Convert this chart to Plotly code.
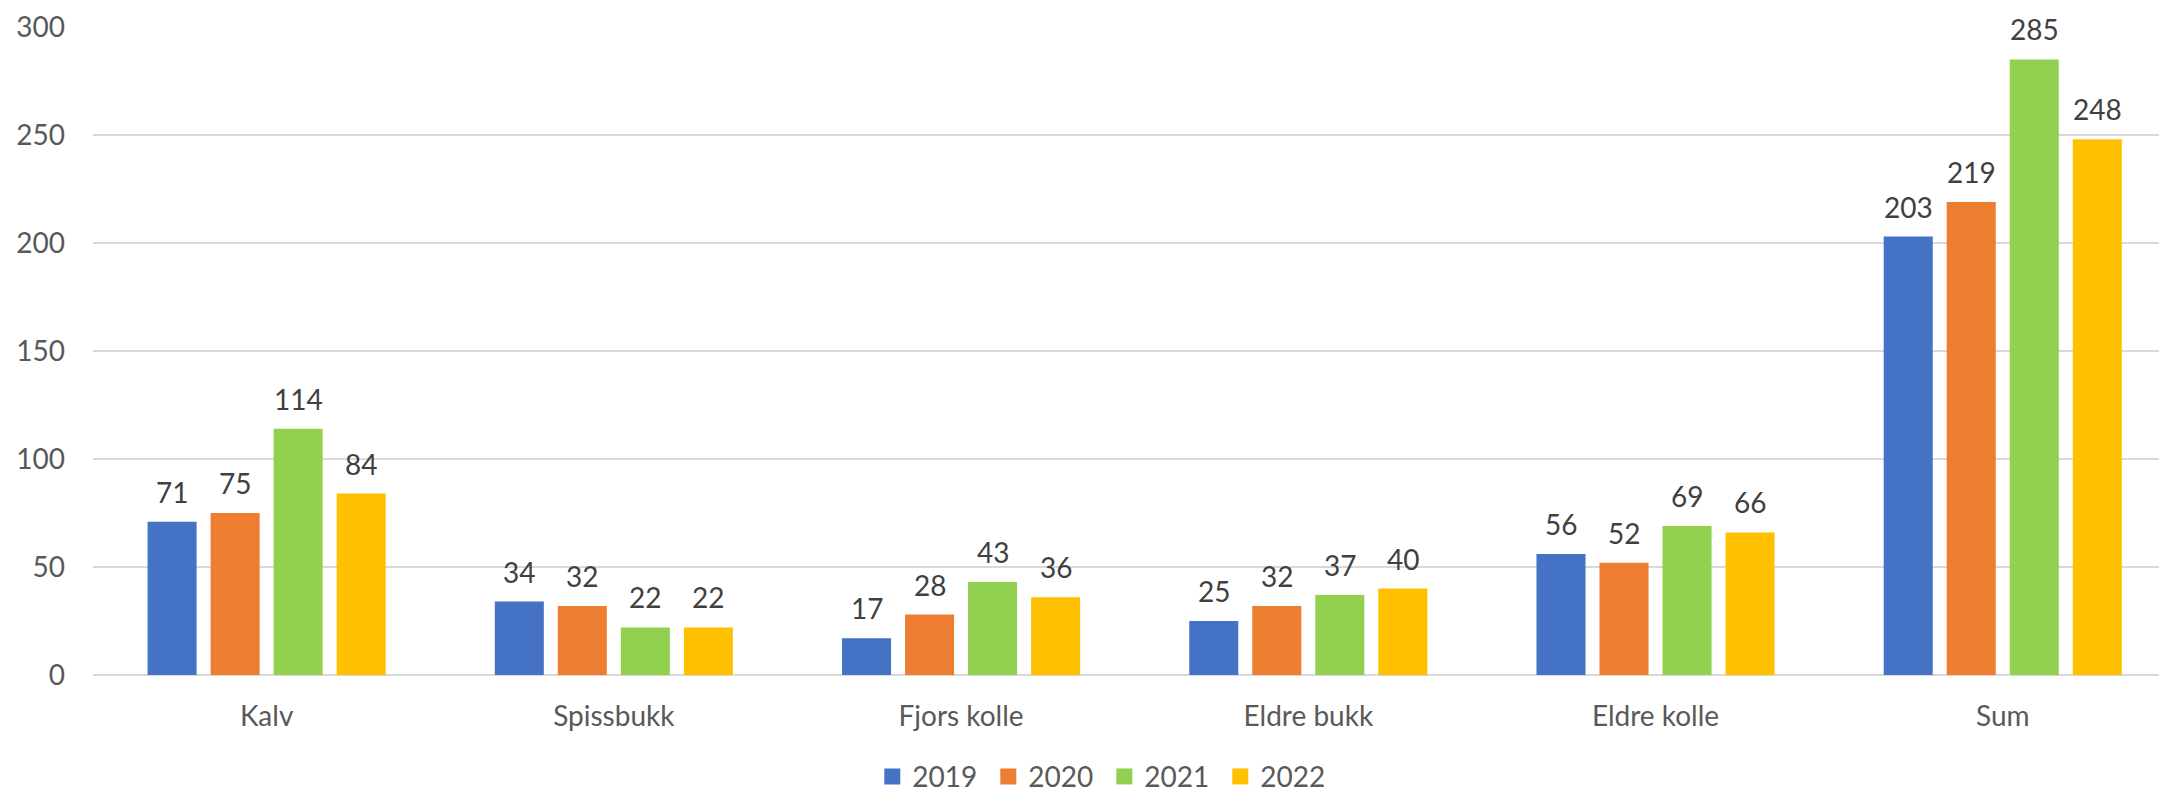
import plotly.graph_objects as go

categories = ["Kalv", "Spissbukk", "Fjors kolle", "Eldre bukk", "Eldre kolle", "Sum"]
years = ["2019", "2020", "2021", "2022"]
v2019 = [71, 34, 17, 25, 56, 203]
v2020 = [75, 32, 28, 32, 52, 219]
v2021 = [114, 22, 43, 37, 69, 285]
v2022 = [84, 22, 36, 40, 66, 248]
y_ticks = [0, 50, 100, 150, 200, 250, 300]

series = [v2019, v2020, v2021, v2022]
colors = ["#4472C4", "#ED7D31", "#92D050", "#FFC000"]
FONT = "Lato"

fig = go.Figure()
for name, vals, col in zip(years, series, colors):
    fig.add_trace(go.Bar(x=categories, y=vals, name=name, marker=dict(color=col, line=dict(width=0)),
                         showlegend=False, hoverinfo="skip"))
# legend entries
for name, col in zip(years, colors):
    fig.add_trace(go.Scatter(x=[None], y=[None], mode="markers", name=name,
                             marker=dict(symbol="square", size=16, color=col), hoverinfo="skip"))

# data labels
slot_px = 63
for i, vals in enumerate(series):
    for c, v in zip(categories, vals):
        fig.add_annotation(x=c, y=v, text=str(v), showarrow=False, xref="x", yref="y",
                           xshift=(i - 1.5) * slot_px, yshift=30, yanchor="middle",
                           font=dict(family=FONT, size=28, color="#404040"))

fig.update_layout(
    width=2159, height=793,
    margin=dict(l=93, r=0, t=27, b=118, autoexpand=False),
    paper_bgcolor="white", plot_bgcolor="white",
    barmode="group", bargap=0.274, bargroupgap=0.222,
    font=dict(family=FONT, size=28, color="#595959"),
    showlegend=True,
    legend=dict(orientation="h", x=0.4895, xanchor="center", y=-0.157, yanchor="middle",
                entrywidth=71, entrywidthmode="pixels",
                font=dict(family=FONT, size=28, color="#595959"),
                itemclick=False, itemdoubleclick=False),
    hovermode=False,
)
fig.update_xaxes(range=[-0.5, 5.45], showgrid=False, showline=False, zeroline=False,
                 ticks="", ticklabelstandoff=22, automargin=False,
                 tickfont=dict(family=FONT, size=28, color="#595959"))
fig.update_yaxes(range=[0, 300], tickvals=y_ticks, showgrid=True, gridcolor="#D9D9D9", gridwidth=1.5,
                 zeroline=True, zerolinecolor="#D9D9D9", zerolinewidth=1.5, showline=False,
                 ticks="", ticklabelstandoff=27, automargin=False,
                 tickfont=dict(family=FONT, size=28, color="#595959"))

fig.write_html("out.html", config={"displayModeBar": False},
               post_script="document.body.style.margin='0';document.body.style.overflow='hidden';")
